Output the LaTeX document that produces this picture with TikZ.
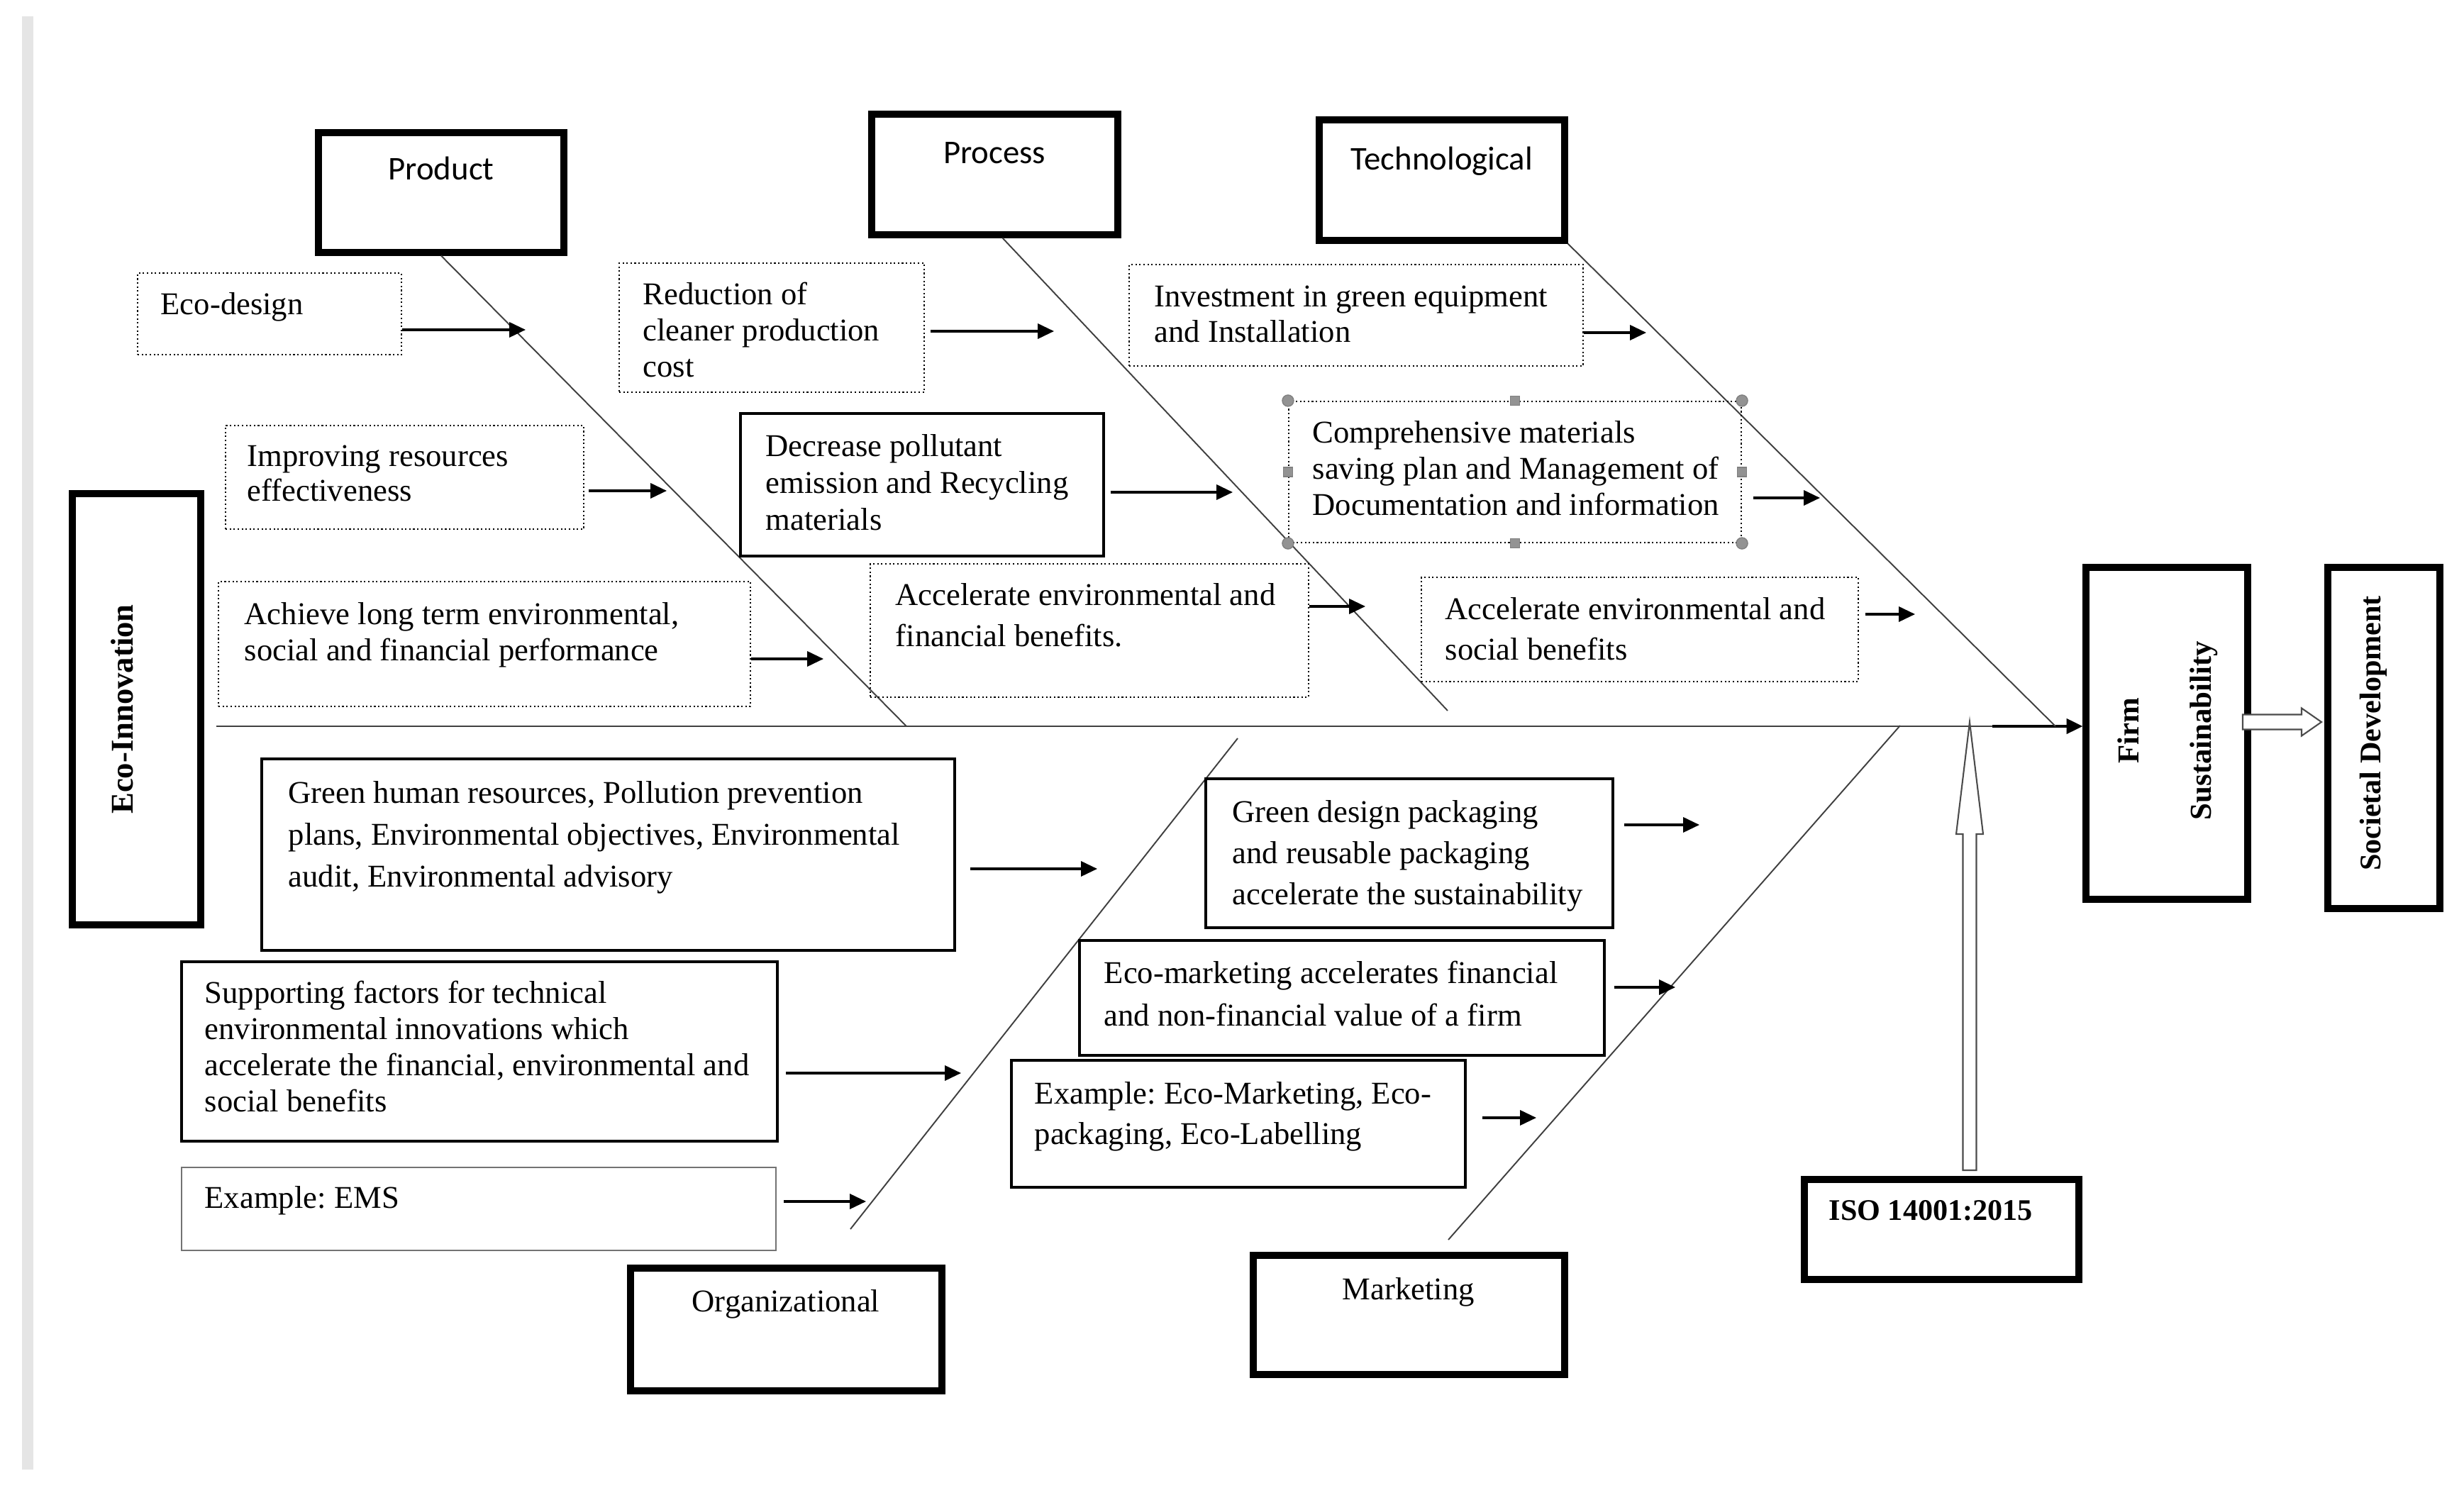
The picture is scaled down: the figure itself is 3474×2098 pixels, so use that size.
\documentclass[tikz,border=0pt]{standalone}
\usepackage{fontspec}
\setmainfont{Liberation Serif}
\newfontfamily\calfont{Carlito}
\usetikzlibrary{arrows.meta, calc, fit}
\newcommand{\tsz}[1]{\fontsize{12.7}{#1}\selectfont}
\frenchspacing

\begin{document}
\begin{tikzpicture}[x=0.01cm, y=-0.01cm, >={Triangle[length=6.5pt,width=6pt]},
  thickbox/.style={draw, line width=2.6pt, inner sep=0pt},
  dotbox/.style={draw, densely dotted, line width=0.6pt, inner sep=0pt},
  solbox/.style={draw, line width=0.9pt, inner sep=0pt},
  txt/.style={anchor=north west, inner sep=0pt, align=left},
  bone/.style={draw=black!75, line width=0.55pt},
  arr/.style={->, line width=0.9pt},
  openarr/.style={draw=black!70, fill=white, line width=0.6pt},
  handle/.style={fill=gray!85, draw=gray, inner sep=0pt}]
  \useasboundingbox (0,0) rectangle (3474,2098);
  % page edge
  \draw[gray!20, line width=4.5pt] (39,23) -- (39,2072);

  % category boxes
  \node[thickbox, fit={(449,187) (795,356)}] (prod) {};
  \node[font=\calfont\fontsize{13.3}{16}\selectfont, anchor=base] (prodT) at (622,254) {Product};
  \node[thickbox, fit={(1229,161) (1576,331)}] (proc) {};
  \node[font=\calfont\fontsize{13.3}{16}\selectfont, anchor=base] (procT) at (1402,231) {Process};
  \node[thickbox, fit={(1860,169) (2206,339)}] (tech) {};
  \node[font=\calfont\fontsize{13.3}{16}\selectfont, anchor=base] (techT) at (2033,240) {Technological};
  \node[thickbox, fit={(889,1788) (1328,1961)}] (org) {};
  \node[font=\tsz{15}, anchor=base] (orgT) at (1108,1849) {Organizational};
  \node[thickbox, fit={(1767,1770) (2206,1938)}] (mkt) {};
  \node[font=\tsz{15}, anchor=base] (mktT) at (1986,1832) {Marketing};

  % head and tail
  \node[thickbox, fit={(102,696) (283,1304)}] (eco) {};
  \node[rotate=90, font=\bfseries\tsz{15}] (ecoT) at (172,1000) {Eco-Innovation};
  \node[thickbox, fit={(2941,800) (3169,1268)}] (firm) {};
  \node[rotate=90, align=center, font=\bfseries\fontsize{12.2}{29}\selectfont] (firmT) at (3056,1030) {Firm\\Sustainability};
  \node[thickbox, fit={(3282,800) (3440,1281)}] (soc) {};
  \node[rotate=90, font=\bfseries\fontsize{12}{15}\selectfont] (socT) at (3346,1034) {Societal Development};
  \node[thickbox, fit={(2544,1663) (2931,1804)}] (iso) {};
  \node[font=\bfseries\fontsize{12}{15}\selectfont, anchor=base west, inner sep=0pt] (isoT) at (2578,1721) {ISO 14001:2015};

  % spine and bones
  \coordinate (spineL) at (305,1024);
  \coordinate (spineR) at (2900,1024);
  \coordinate (fsStart) at (2809,1024);
  \draw[bone, line width=0.7pt] (spineL) -- (spineR);
  \draw[->, line width=1.2pt] (fsStart) -- (firm.west |- fsStart);
  \coordinate (prodEnd) at (1278,1024);
  \coordinate (procEnd) at (2041,1002);
  \coordinate (techEnd) at (2898,1024);
  \draw[bone] (prod.south) -- (prodEnd);
  \draw[bone] ([shift={(11,0)}]proc.south) -- (procEnd);
  \draw[bone] (tech.south east) -- (techEnd);
  \coordinate (orgLow) at (1199,1733);
  \coordinate (orgUp) at (1745,1041);
  \coordinate (mktLow) at (2042,1748);
  \coordinate (mktUp) at (2679,1023);
  \draw[bone] (orgLow) -- (orgUp);
  \draw[bone] (mktLow) -- (mktUp);

  % product causes
  \node[dotbox, fit={(194,385) (566,500)}] (ecod) {};
  \node[txt, font=\tsz{14.5}] (ecodT) at (226,412) {Eco-design};
  \node[dotbox, fit={(318,600) (823,746)}] (impr) {};
  \node[txt, font=\tsz{13.9}] (imprT) at (348,627) {Improving resources\\effectiveness};
  \node[dotbox, fit={(308,820) (1058,996)}] (achv) {};
  \node[txt, font=\tsz{14.5}] (achvT) at (344,849) {Achieve long term environmental,\\social and financial performance};
  \coordinate (aEcod) at (741,465);
  \coordinate (aImpr) at (940,692);
  \coordinate (aAchv) at (1161,929);
  \draw[arr] (ecod.east |- aEcod) -- (aEcod);
  \draw[arr, shorten <=1.7pt] (impr.east |- aImpr) -- (aImpr);
  \draw[arr] (achv.east |- aAchv) -- (aAchv);

  % process causes
  \node[dotbox, fit={(873,371) (1303,553)}] (redu) {};
  \node[txt, font=\tsz{14.5}] (reduT) at (906,397) {Reduction of\\cleaner production\\cost};
  \node[solbox, fit={(1044,583) (1556,784)}] (decr) {};
  \node[txt, font=\tsz{14.8}] (decrT) at (1079,612) {Decrease pollutant\\emission and Recycling\\materials};
  \node[dotbox, fit={(1227,795) (1845,983)}] (accf) {};
  \node[txt, font=\tsz{16.5}] (accfT) at (1262,822) {Accelerate environmental and\\financial benefits.};
  \coordinate (aRedu) at (1486,467);
  \coordinate (aDecr) at (1738,694);
  \coordinate (aAccf) at (1925,855);
  \draw[arr, shorten <=2.3pt] (redu.east |- aRedu) -- (aRedu);
  \draw[arr, shorten <=2.3pt] (decr.east |- aDecr) -- (aDecr);
  \draw[arr] (accf.east |- aAccf) -- (aAccf);

  % technological causes
  \node[dotbox, fit={(1592,373) (2232,516)}] (inve) {};
  \node[txt, font=\tsz{14.2}] (inveT) at (1627,402) {Investment in green equipment\\and Installation};
  \node[dotbox, fit={(1817,566) (2455,765)}] (comp) {};
  \node[txt, font=\tsz{14.5}] (compT) at (1850,593) {Comprehensive materials\\saving plan and Management of\\Documentation and information};
  \foreach \a/\n in {north west/a, north east/b, south west/c, south east/d}
    \node[handle, circle, minimum size=0.16cm] (hc\n) at (comp.\a) {};
  \foreach \a/\n in {north/a, south/b, west/c, east/d}
    \node[handle, minimum size=0.13cm] (hs\n) at (comp.\a) {};
  \node[dotbox, fit={(2004,814) (2620,961)}] (accs) {};
  \node[txt, font=\tsz{16.2}] (accsT) at (2037,842) {Accelerate environmental and\\social benefits};
  \coordinate (aInve) at (2321,469);
  \coordinate (aComp) at (2566,702);
  \coordinate (aAccs) at (2700,866);
  \draw[arr] (inve.east |- aInve) -- (aInve);
  \draw[arr, shorten <=4.5pt] (comp.east |- aComp) -- (aComp);
  \draw[arr, shorten <=2.6pt] (accs.east |- aAccs) -- (aAccs);

  % organizational causes
  \node[solbox, fit={(369,1070) (1346,1340)}] (ghrm) {};
  \node[txt, font=\tsz{16.8}] (ghrmT) at (406,1101) {Green human resources, Pollution prevention\\plans, Environmental objectives, Environmental\\audit, Environmental advisory};
  \node[solbox, fit={(256,1356) (1096,1609)}] (supp) {};
  \node[txt, font=\tsz{14.5}] (suppT) at (288,1382) {Supporting factors for technical\\environmental innovations which\\accelerate the financial, environmental and\\social benefits};
  \node[draw=black!55, line width=0.7pt, inner sep=0pt, fit={(256,1646) (1094,1763)}] (ems) {};
  \node[txt, font=\tsz{14.5}] (emsT) at (288,1672) {Example: EMS};
  \coordinate (aGhrm) at (1547,1225);
  \coordinate (aSupp) at (1355,1513);
  \coordinate (aEms) at (1221,1694);
  \draw[arr, shorten <=5.7pt] (ghrm.east |- aGhrm) -- (aGhrm);
  \draw[arr, shorten <=3.1pt] (supp.east |- aSupp) -- (aSupp);
  \draw[arr, shorten <=2.8pt] (ems.east |- aEms) -- (aEms);

  % marketing causes
  \node[solbox, fit={(1700,1098) (2274,1308)}] (gdp) {};
  \node[txt, font=\tsz{16.5}] (gdpT) at (1737,1128) {Green design packaging\\and reusable packaging\\accelerate the sustainability};
  \node[solbox, fit={(1522,1326) (2262,1488)}] (emkt) {};
  \node[txt, font=\tsz{17.1}] (emktT) at (1556,1354) {Eco-marketing accelerates financial\\and non-financial value of a firm};
  \node[solbox, fit={(1426,1495) (2066,1674)}] (exmk) {};
  \node[txt, font=\tsz{16.2}] (exmkT) at (1458,1525) {Example: Eco-Marketing, Eco-\\packaging, Eco-Labelling};
  \coordinate (aGdp) at (2396,1163);
  \coordinate (aEmkt) at (2362,1392);
  \coordinate (aExmk) at (2166,1576);
  \draw[arr, shorten <=4pt] (gdp.east |- aGdp) -- (aGdp);
  \draw[arr, shorten <=3.4pt] (emkt.east |- aEmkt) -- (aEmkt);
  \draw[arr, shorten <=6.5pt] (exmk.east |- aExmk) -- (aExmk);

  % open block arrows
  \coordinate (isoFoot) at (2777,1650);
  \coordinate (isoTip) at (2777,1018);
  \draw[openarr] ($(isoFoot)+(-9.5,0)$) -- ($(isoTip)+(-9.5,158)$) -- ($(isoTip)+(-19,158)$)
    -- (isoTip) -- ($(isoTip)+(19,158)$) -- ($(isoTip)+(9.5,158)$) -- ($(isoFoot)+(9.5,0)$) -- cycle;
  \coordinate (fsTail) at (3162,1018);
  \coordinate (fsTip) at (3273,1018);
  \draw[openarr] ($(fsTail)+(0,-10.5)$) -- ($(fsTip)+(-28,-10.5)$) -- ($(fsTip)+(-28,-19.5)$)
    -- (fsTip) -- ($(fsTip)+(-28,19.5)$) -- ($(fsTip)+(-28,10.5)$) -- ($(fsTail)+(0,10.5)$) -- cycle;
\end{tikzpicture}
\end{document}
